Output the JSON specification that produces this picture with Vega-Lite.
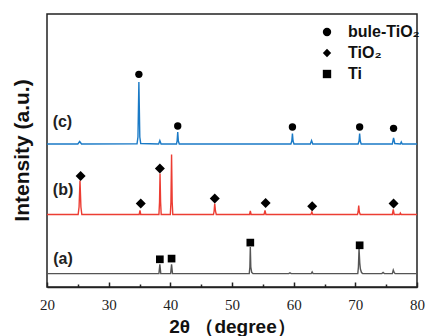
{
  "$schema": "https://vega.github.io/schema/vega-lite/v6.json",
  "width": 370,
  "height": 273,
  "autosize": {"type": "none"},
  "padding": {"left": 47, "top": 14, "right": 10, "bottom": 49},
  "background": "white",
  "config": {"view": {"stroke": "#222222", "strokeWidth": 1.5}},
  "datasets": {
    "xrd": [
      {"s": "c", "x": 20, "y": 143}, {"s": "c", "x": 25.0, "y": 143}, {"s": "c", "x": 25.3, "y": 145.5}, {"s": "c", "x": 25.6, "y": 143},
      {"s": "c", "x": 34.6, "y": 143.2}, {"s": "c", "x": 34.75, "y": 150}, {"s": "c", "x": 34.9, "y": 205}, {"s": "c", "x": 35.05, "y": 150}, {"s": "c", "x": 35.2, "y": 143.5},
      {"s": "c", "x": 38.1, "y": 143}, {"s": "c", "x": 38.3, "y": 146.5}, {"s": "c", "x": 38.5, "y": 143},
      {"s": "c", "x": 41.0, "y": 143}, {"s": "c", "x": 41.1, "y": 146}, {"s": "c", "x": 41.2, "y": 155}, {"s": "c", "x": 41.3, "y": 146}, {"s": "c", "x": 41.45, "y": 143},
      {"s": "c", "x": 59.55, "y": 143}, {"s": "c", "x": 59.7, "y": 146}, {"s": "c", "x": 59.8, "y": 153.5}, {"s": "c", "x": 59.9, "y": 146}, {"s": "c", "x": 60.05, "y": 143},
      {"s": "c", "x": 62.7, "y": 143}, {"s": "c", "x": 62.9, "y": 146.5}, {"s": "c", "x": 63.1, "y": 143},
      {"s": "c", "x": 70.45, "y": 143}, {"s": "c", "x": 70.6, "y": 146}, {"s": "c", "x": 70.7, "y": 153.5}, {"s": "c", "x": 70.8, "y": 146}, {"s": "c", "x": 70.95, "y": 143},
      {"s": "c", "x": 76.0, "y": 143}, {"s": "c", "x": 76.2, "y": 149}, {"s": "c", "x": 76.4, "y": 143.5}, {"s": "c", "x": 77.3, "y": 143}, {"s": "c", "x": 77.45, "y": 145}, {"s": "c", "x": 77.6, "y": 143}, {"s": "c", "x": 80, "y": 143},

      {"s": "b", "x": 20, "y": 72.5}, {"s": "b", "x": 25.05, "y": 72.5}, {"s": "b", "x": 25.2, "y": 80}, {"s": "b", "x": 25.35, "y": 106.5}, {"s": "b", "x": 25.5, "y": 80}, {"s": "b", "x": 25.65, "y": 72.5},
      {"s": "b", "x": 34.95, "y": 72.5}, {"s": "b", "x": 35.08, "y": 76.5}, {"s": "b", "x": 35.2, "y": 72.5},
      {"s": "b", "x": 38.15, "y": 72.5}, {"s": "b", "x": 38.25, "y": 85}, {"s": "b", "x": 38.33, "y": 113.5}, {"s": "b", "x": 38.42, "y": 85}, {"s": "b", "x": 38.52, "y": 72.5},
      {"s": "b", "x": 40.0, "y": 72.5}, {"s": "b", "x": 40.1, "y": 85}, {"s": "b", "x": 40.2, "y": 132.5}, {"s": "b", "x": 40.3, "y": 85}, {"s": "b", "x": 40.4, "y": 72.5},
      {"s": "b", "x": 47.0, "y": 72.5}, {"s": "b", "x": 47.1, "y": 76}, {"s": "b", "x": 47.2, "y": 83.5}, {"s": "b", "x": 47.32, "y": 76}, {"s": "b", "x": 47.45, "y": 72.5},
      {"s": "b", "x": 52.85, "y": 72.5}, {"s": "b", "x": 52.97, "y": 76}, {"s": "b", "x": 53.1, "y": 72.5},
      {"s": "b", "x": 55.2, "y": 72.5}, {"s": "b", "x": 55.35, "y": 76.5}, {"s": "b", "x": 55.5, "y": 72.5},
      {"s": "b", "x": 62.8, "y": 72.5}, {"s": "b", "x": 62.95, "y": 75}, {"s": "b", "x": 63.1, "y": 72.5},
      {"s": "b", "x": 70.35, "y": 72.5}, {"s": "b", "x": 70.45, "y": 75}, {"s": "b", "x": 70.55, "y": 81.5}, {"s": "b", "x": 70.65, "y": 75}, {"s": "b", "x": 70.8, "y": 72.5},
      {"s": "b", "x": 76.0, "y": 72.5}, {"s": "b", "x": 76.15, "y": 77.5}, {"s": "b", "x": 76.3, "y": 72.5}, {"s": "b", "x": 77.2, "y": 72.5}, {"s": "b", "x": 77.3, "y": 74}, {"s": "b", "x": 77.45, "y": 72.5}, {"s": "b", "x": 80, "y": 72.5},

      {"s": "a", "x": 20, "y": 13.4}, {"s": "a", "x": 38.15, "y": 13.4}, {"s": "a", "x": 38.3, "y": 22.7}, {"s": "a", "x": 38.45, "y": 13.4},
      {"s": "a", "x": 40.05, "y": 13.4}, {"s": "a", "x": 40.2, "y": 22.7}, {"s": "a", "x": 40.35, "y": 13.4},
      {"s": "a", "x": 52.8, "y": 13.4}, {"s": "a", "x": 52.9, "y": 20}, {"s": "a", "x": 52.97, "y": 40}, {"s": "a", "x": 53.05, "y": 20}, {"s": "a", "x": 53.2, "y": 14.5}, {"s": "a", "x": 53.4, "y": 13.4},
      {"s": "a", "x": 59.2, "y": 13.4}, {"s": "a", "x": 59.4, "y": 14.2}, {"s": "a", "x": 59.6, "y": 13.4},
      {"s": "a", "x": 62.85, "y": 13.4}, {"s": "a", "x": 63.0, "y": 15}, {"s": "a", "x": 63.15, "y": 13.4},
      {"s": "a", "x": 70.4, "y": 13.4}, {"s": "a", "x": 70.5, "y": 20}, {"s": "a", "x": 70.6, "y": 38.4}, {"s": "a", "x": 70.72, "y": 24}, {"s": "a", "x": 70.82, "y": 18}, {"s": "a", "x": 71.0, "y": 14.5}, {"s": "a", "x": 71.2, "y": 13.4},
      {"s": "a", "x": 74.3, "y": 13.4}, {"s": "a", "x": 74.5, "y": 14.5}, {"s": "a", "x": 74.7, "y": 13.4},
      {"s": "a", "x": 76.0, "y": 13.4}, {"s": "a", "x": 76.15, "y": 17}, {"s": "a", "x": 76.3, "y": 14.5}, {"s": "a", "x": 76.45, "y": 13.4}, {"s": "a", "x": 80, "y": 13.4}
    ],
    "circles": [
      {"phase": "bule-TiO₂", "x": 34.9, "y": 212.7},
      {"phase": "bule-TiO₂", "x": 41.2, "y": 161},
      {"phase": "bule-TiO₂", "x": 59.8, "y": 160},
      {"phase": "bule-TiO₂", "x": 70.7, "y": 160},
      {"phase": "bule-TiO₂", "x": 76.2, "y": 158.7}
    ],
    "diamonds": [
      {"phase": "TiO₂", "x": 25.45, "y": 111},
      {"phase": "TiO₂", "x": 35.2, "y": 83.4},
      {"phase": "TiO₂", "x": 38.3, "y": 118.4},
      {"phase": "TiO₂", "x": 47.2, "y": 88.4},
      {"phase": "TiO₂", "x": 55.45, "y": 84},
      {"phase": "TiO₂", "x": 63.0, "y": 80.7},
      {"phase": "TiO₂", "x": 76.2, "y": 83.4}
    ],
    "squares": [
      {"phase": "Ti", "x": 38.3, "y": 27.7},
      {"phase": "Ti", "x": 40.2, "y": 28.4},
      {"phase": "Ti", "x": 52.97, "y": 44.4},
      {"phase": "Ti", "x": 70.7, "y": 41.7}
    ],
    "labels": [
      {"label": "(c)", "x": 22.5, "y": 164.7},
      {"label": "(b)", "x": 22.6, "y": 96.7},
      {"label": "(a)", "x": 22.6, "y": 27.7}
    ]
  },
  "layer": [
    {
      "data": {"name": "xrd"},
      "mark": {"type": "line", "strokeWidth": 1.4},
      "encoding": {
        "x": {
          "field": "x", "type": "quantitative",
          "scale": {"domain": [20, 80], "nice": false, "zero": false},
          "axis": {
            "orient": "bottom", "values": [20, 30, 40, 50, 60, 70, 80],
            "tickSize": -5, "tickWidth": 1.5, "tickColor": "#222222",
            "domainColor": "#222222", "domainWidth": 1.5, "grid": false,
            "labelFont": "Liberation Serif", "labelFontSize": 15, "labelColor": "#222222",
            "labelPadding": 15.5, "labelFlush": false,
            "title": "2θ （degree）", "titleFont": "Liberation Sans", "titleFontSize": 19,
            "titleFontWeight": "bold", "titleColor": "#111111",
            "titleX": 185, "titleY": 45.5, "titleBaseline": "alphabetic", "titleAlign": "center"
          }
        },
        "y": {
          "field": "y", "type": "quantitative",
          "scale": {"domain": [0, 273], "nice": false, "zero": false},
          "axis": {
            "orient": "left", "labels": false, "ticks": false, "domain": false, "grid": false,
            "title": "Intensity (a.u.)", "titleFont": "Liberation Sans", "titleFontSize": 21,
            "titleFontWeight": "bold", "titleColor": "#111111",
            "titleX": -25, "titleY": 136, "titleAngle": -90, "titleBaseline": "middle", "titleAlign": "center"
          }
        },
        "color": {
          "field": "s", "type": "nominal",
          "scale": {"domain": ["a", "b", "c"], "range": ["#555555", "#ec3d33", "#1a7ac6"]},
          "legend": null
        }
      }
    },
    {
      "data": {"name": "circles"},
      "mark": {"type": "point", "filled": true, "opacity": 1, "color": "black", "size": 54},
      "encoding": {
        "x": {
          "field": "x", "type": "quantitative",
          "axis": {
            "orient": "bottom", "values": [25, 35, 45, 55, 65, 75], "labels": false,
            "tickSize": -3, "tickWidth": 1.5, "tickColor": "#222222", "domain": false,
            "grid": false, "title": null
          }
        },
        "y": {"field": "y", "type": "quantitative"},
        "shape": {
          "field": "phase", "type": "nominal",
          "scale": {"domain": ["bule-TiO₂", "TiO₂", "Ti"], "range": ["circle", "diamond", "square"]},
          "legend": {
            "orient": "none", "legendX": 272, "legendY": 10, "title": null, "padding": 0,
            "labelFont": "Liberation Sans", "labelFontSize": 16, "labelFontWeight": "bold",
            "labelColor": "#111111", "rowPadding": 5, "labelOffset": 13, "symbolSize": 70,
            "symbolFillColor": "black", "symbolStrokeColor": "black"
          }
        }
      }
    },
    {
      "data": {"name": "diamonds"},
      "mark": {"type": "point", "filled": true, "opacity": 1, "color": "black", "size": 100},
      "encoding": {
        "x": {"field": "x", "type": "quantitative", "axis": null},
        "y": {"field": "y", "type": "quantitative"},
        "shape": {
          "field": "phase", "type": "nominal",
          "scale": {"domain": ["bule-TiO₂", "TiO₂", "Ti"], "range": ["circle", "diamond", "square"]}
        }
      }
    },
    {
      "data": {"name": "squares"},
      "mark": {"type": "point", "filled": true, "opacity": 1, "color": "black", "size": 59},
      "encoding": {
        "x": {"field": "x", "type": "quantitative", "axis": null},
        "y": {"field": "y", "type": "quantitative"},
        "shape": {
          "field": "phase", "type": "nominal",
          "scale": {"domain": ["bule-TiO₂", "TiO₂", "Ti"], "range": ["circle", "diamond", "square"]}
        }
      }
    },
    {
      "data": {"name": "labels"},
      "mark": {"type": "text", "font": "Liberation Sans", "fontSize": 16, "fontWeight": "bold", "color": "#222222", "align": "center", "baseline": "middle"},
      "encoding": {
        "x": {"field": "x", "type": "quantitative", "axis": null},
        "y": {"field": "y", "type": "quantitative"},
        "text": {"field": "label"}
      }
    }
  ],
  "resolve": {"axis": {"x": "independent"}}
}
